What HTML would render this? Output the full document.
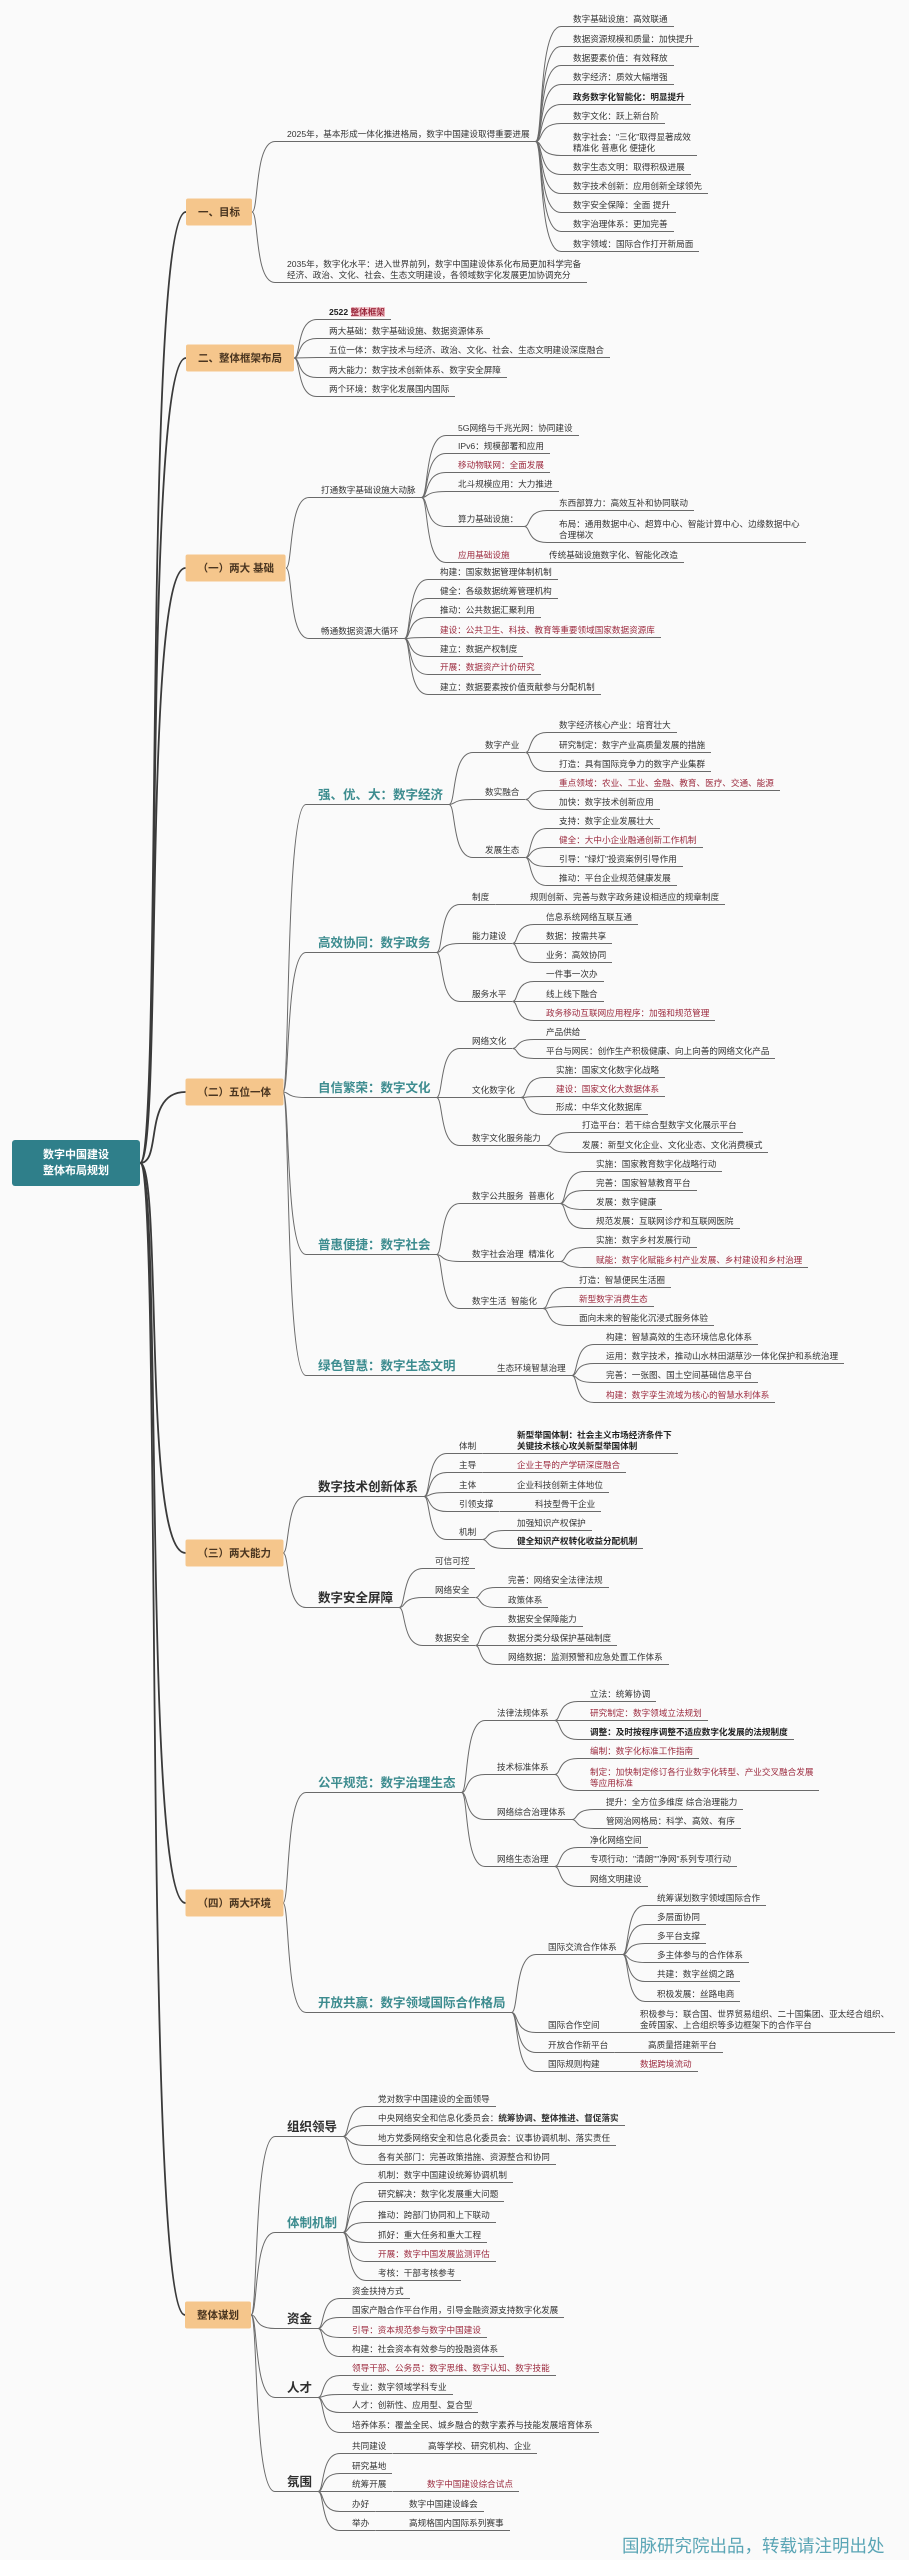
<!DOCTYPE html>
<html><head><meta charset="utf-8">
<style>
html,body{margin:0;padding:0;}
body{width:909px;height:2560px;position:relative;background:#fafafa;overflow:hidden;font-family:"Liberation Sans","Noto Sans CJK SC",sans-serif;color:#333;}
svg#L{position:absolute;left:0;top:0;width:909px;height:2560px;}
.n{position:absolute;transform:translate(-12px,-100%);padding:0 6px 1px 12px;border-bottom:1px solid #6a6a6a;white-space:nowrap;font-size:8.6px;line-height:11px;color:#333;}
.h{font-size:12.5px;line-height:16px;font-weight:bold;color:#3d8c8f;}
.k{font-size:12.5px;line-height:16px;font-weight:bold;color:#2e2e2e;}
.r{color:#9c2a3e;}
.d{color:#222;font-weight:bold;}
.b{position:absolute;transform:translate(-100%,-50%);background:#f5c68c;color:#4a3520;font-size:10.5px;font-weight:bold;padding:6px 12px;white-space:nowrap;border-radius:2px;}
#R{position:absolute;left:12px;top:1140px;width:128px;height:46px;background:#2f7f8a;color:#fff;font-size:11px;font-weight:bold;text-align:center;line-height:16px;padding-top:7px;box-sizing:border-box;border-radius:3px;}
.wm{position:absolute;left:622px;top:2533px;font-size:17.5px;color:#5aa5b5;white-space:nowrap;}
.hl{background:#f3c6cc;color:#9c2a3e;}
</style></head><body>
<svg id="L" xmlns="http://www.w3.org/2000/svg"></svg>
<div id="R">数字中国建设<br>整体布局规划</div>

<div class="b" id="g1" p="R" style="left:252px;top:212px">一、目标</div>
<div class="b" id="g2" p="R" style="left:294px;top:358px">二、整体框架布局</div>
<div class="b" id="g3" p="R" style="left:286px;top:568px">（一）两大 基础</div>
<div class="b" id="g4" p="R" style="left:283px;top:1092px">（二）五位一体</div>
<div class="b" id="g5" p="R" style="left:283px;top:1553px">（三）两大能力</div>
<div class="b" id="g6" p="R" style="left:283px;top:1903px">（四）两大环境</div>
<div class="b" id="g7" p="R" style="left:251px;top:2315px">整体谋划</div>

<!-- 目标 -->
<div class="n" id="a1" p="g1" style="left:287px;top:142px">2025年，基本形成一体化推进格局，数字中国建设取得重要进展</div>
<div class="n" p="a1" style="left:573px;top:27px">数字基础设施：高效联通</div>
<div class="n" p="a1" style="left:573px;top:47px">数据资源规模和质量：加快提升</div>
<div class="n" p="a1" style="left:573px;top:66px">数据要素价值：有效释放</div>
<div class="n" p="a1" style="left:573px;top:85px">数字经济：质效大幅增强</div>
<div class="n d" p="a1" style="left:573px;top:105px">政务数字化智能化：明显提升</div>
<div class="n" p="a1" style="left:573px;top:124px">数字文化：跃上新台阶</div>
<div class="n" p="a1" style="left:573px;top:156px">数字社会："三化"取得显著成效<br>精准化 普惠化 便捷化</div>
<div class="n" p="a1" style="left:573px;top:175px">数字生态文明：取得积极进展</div>
<div class="n" p="a1" style="left:573px;top:194px">数字技术创新：应用创新全球领先</div>
<div class="n" p="a1" style="left:573px;top:213px">数字安全保障：全面 提升</div>
<div class="n" p="a1" style="left:573px;top:232px">数字治理体系：更加完善</div>
<div class="n" p="a1" style="left:573px;top:252px">数字领域：国际合作打开新局面</div>
<div class="n" p="g1" style="left:287px;top:283px">2035年，数字化水平：进入世界前列，数字中国建设体系化布局更加科学完备<br>经济、政治、文化、社会、生态文明建设，各领域数字化发展更加协调充分</div>

<!-- 整体框架布局 -->
<div class="n d" p="g2" style="left:329px;top:320px">2522 <span class="hl">整体框架</span></div>
<div class="n" p="g2" style="left:329px;top:339px">两大基础：数字基础设施、数据资源体系</div>
<div class="n" p="g2" style="left:329px;top:358px">五位一体：数字技术与经济、政治、文化、社会、生态文明建设深度融合</div>
<div class="n" p="g2" style="left:329px;top:378px">两大能力：数字技术创新体系、数字安全屏障</div>
<div class="n" p="g2" style="left:329px;top:397px">两个环境：数字化发展国内国际</div>

<!-- 两大基础 -->
<div class="n" id="b1" p="g3" style="left:321px;top:498px">打通数字基础设施大动脉</div>
<div class="n" id="b2" p="g3" style="left:321px;top:639px">畅通数据资源大循环</div>
<div class="n" p="b1" style="left:458px;top:436px">5G网络与千兆光网：协同建设</div>
<div class="n" p="b1" style="left:458px;top:454px">IPv6：规模部署和应用</div>
<div class="n r" p="b1" style="left:458px;top:473px">移动物联网：全面发展</div>
<div class="n" p="b1" style="left:458px;top:492px">北斗规模应用：大力推进</div>
<div class="n" id="b1s" p="b1" style="left:458px;top:527px">算力基础设施：</div>
<div class="n r" id="b1y" p="b1" style="left:458px;top:563px">应用基础设施</div>
<div class="n" p="b1s" style="left:559px;top:511px">东西部算力：高效互补和协同联动</div>
<div class="n" p="b1s" style="left:559px;top:543px">布局：通用数据中心、超算中心、智能计算中心、边缘数据中心<br>合理梯次</div>
<div class="n" p="b1y" style="left:549px;top:563px">传统基础设施数字化、智能化改造</div>
<div class="n" p="b2" style="left:440px;top:580px">构建：国家数据管理体制机制</div>
<div class="n" p="b2" style="left:440px;top:599px">健全：各级数据统筹管理机构</div>
<div class="n" p="b2" style="left:440px;top:618px">推动：公共数据汇聚利用</div>
<div class="n r" p="b2" style="left:440px;top:638px">建设：公共卫生、科技、教育等重要领域国家数据资源库</div>
<div class="n" p="b2" style="left:440px;top:657px">建立：数据产权制度</div>
<div class="n" p="b2" style="left:440px;top:675px"><span class="r">开展：数据资产计价研究</span></div>
<div class="n" p="b2" style="left:440px;top:695px">建立：数据要素按价值贡献参与分配机制</div>

<!-- 五位一体 -->
<div class="n h" id="e1" p="g4" style="left:318px;top:805px">强、优、大：数字经济</div>
<div class="n h" id="e2" p="g4" style="left:318px;top:953px">高效协同：数字政务</div>
<div class="n h" id="e3" p="g4" style="left:318px;top:1098px">自信繁荣：数字文化</div>
<div class="n h" id="e4" p="g4" style="left:318px;top:1255px">普惠便捷：数字社会</div>
<div class="n h" id="e5" p="g4" style="left:318px;top:1376px">绿色智慧：数字生态文明</div>

<div class="n" id="e11" p="e1" style="left:485px;top:753px">数字产业</div>
<div class="n" id="e12" p="e1" style="left:485px;top:800px">数实融合</div>
<div class="n" id="e13" p="e1" style="left:485px;top:858px">发展生态</div>
<div class="n" p="e11" style="left:559px;top:733px">数字经济核心产业：培育壮大</div>
<div class="n" p="e11" style="left:559px;top:753px">研究制定：数字产业高质量发展的措施</div>
<div class="n" p="e11" style="left:559px;top:772px">打造：具有国际竞争力的数字产业集群</div>
<div class="n r" p="e12" style="left:559px;top:791px">重点领域：农业、工业、金融、教育、医疗、交通、能源</div>
<div class="n" p="e12" style="left:559px;top:810px">加快：数字技术创新应用</div>
<div class="n" p="e13" style="left:559px;top:829px">支持：数字企业发展壮大</div>
<div class="n r" p="e13" style="left:559px;top:848px">健全：大中小企业融通创新工作机制</div>
<div class="n" p="e13" style="left:559px;top:867px">引导："绿灯"投资案例引导作用</div>
<div class="n" p="e13" style="left:559px;top:886px">推动：平台企业规范健康发展</div>

<div class="n" id="e21" p="e2" style="left:472px;top:905px">制度</div>
<div class="n" id="e22" p="e2" style="left:472px;top:944px">能力建设</div>
<div class="n" id="e23" p="e2" style="left:472px;top:1002px">服务水平</div>
<div class="n" p="e21" style="left:530px;top:905px">规则创新、完善与数字政务建设相适应的规章制度</div>
<div class="n" p="e22" style="left:546px;top:925px">信息系统网络互联互通</div>
<div class="n" p="e22" style="left:546px;top:944px">数据：按需共享</div>
<div class="n" p="e22" style="left:546px;top:963px">业务：高效协同</div>
<div class="n" p="e23" style="left:546px;top:982px">一件事一次办</div>
<div class="n" p="e23" style="left:546px;top:1002px">线上线下融合</div>
<div class="n r" p="e23" style="left:546px;top:1021px">政务移动互联网应用程序：加强和规范管理</div>

<div class="n" id="e31" p="e3" style="left:472px;top:1049px">网络文化</div>
<div class="n" id="e32" p="e3" style="left:472px;top:1098px">文化数字化</div>
<div class="n" id="e33" p="e3" style="left:472px;top:1146px">数字文化服务能力</div>
<div class="n" p="e31" style="left:546px;top:1040px">产品供给</div>
<div class="n" p="e31" style="left:546px;top:1059px">平台与网民：创作生产积极健康、向上向善的网络文化产品</div>
<div class="n" p="e32" style="left:556px;top:1078px">实施：国家文化数字化战略</div>
<div class="n r" p="e32" style="left:556px;top:1097px">建设：国家文化大数据体系</div>
<div class="n" p="e32" style="left:556px;top:1115px">形成：中华文化数据库</div>
<div class="n" p="e33" style="left:582px;top:1133px">打造平台：若干综合型数字文化展示平台</div>
<div class="n" p="e33" style="left:582px;top:1153px">发展：新型文化企业、文化业态、文化消费模式</div>

<div class="n" id="e41" p="e4" style="left:472px;top:1204px">数字公共服务&nbsp; 普惠化</div>
<div class="n" id="e42" p="e4" style="left:472px;top:1262px">数字社会治理&nbsp; 精准化</div>
<div class="n" id="e43" p="e4" style="left:472px;top:1309px">数字生活&nbsp; 智能化</div>
<div class="n" p="e41" style="left:596px;top:1172px">实施：国家教育数字化战略行动</div>
<div class="n" p="e41" style="left:596px;top:1191px">完善：国家智慧教育平台</div>
<div class="n" p="e41" style="left:596px;top:1210px">发展：数字健康</div>
<div class="n" p="e41" style="left:596px;top:1229px">规范发展：互联网诊疗和互联网医院</div>
<div class="n" p="e42" style="left:596px;top:1248px">实施：数字乡村发展行动</div>
<div class="n r" p="e42" style="left:596px;top:1268px">赋能：数字化赋能乡村产业发展、乡村建设和乡村治理</div>
<div class="n" p="e43" style="left:579px;top:1288px">打造：智慧便民生活圈</div>
<div class="n r" p="e43" style="left:579px;top:1307px">新型数字消费生态</div>
<div class="n" p="e43" style="left:579px;top:1326px">面向未来的智能化沉浸式服务体验</div>

<div class="n" id="e51" p="e5" style="left:497px;top:1376px">生态环境智慧治理</div>
<div class="n" p="e51" style="left:606px;top:1345px">构建：智慧高效的生态环境信息化体系</div>
<div class="n" p="e51" style="left:606px;top:1364px">运用：数字技术，推动山水林田湖草沙一体化保护和系统治理</div>
<div class="n" p="e51" style="left:606px;top:1383px">完善：一张图、国土空间基础信息平台</div>
<div class="n r" p="e51" style="left:606px;top:1403px">构建：数字孪生流域为核心的智慧水利体系</div>

<!-- 两大能力 -->
<div class="n k" id="f1" p="g5" style="left:318px;top:1497px">数字技术创新体系</div>
<div class="n k" id="f2" p="g5" style="left:318px;top:1608px">数字安全屏障</div>
<div class="n" id="f11" p="f1" style="left:459px;top:1454px">体制</div>
<div class="n" id="f12" p="f1" style="left:459px;top:1473px">主导</div>
<div class="n" id="f13" p="f1" style="left:459px;top:1493px">主体</div>
<div class="n" id="f14" p="f1" style="left:459px;top:1512px">引领支撑</div>
<div class="n" id="f15" p="f1" style="left:459px;top:1540px">机制</div>
<div class="n d" p="f11" style="left:517px;top:1454px">新型举国体制：社会主义市场经济条件下<br>关键技术核心攻关新型举国体制</div>
<div class="n r" p="f12" style="left:517px;top:1473px">企业主导的产学研深度融合</div>
<div class="n" p="f13" style="left:517px;top:1493px">企业科技创新主体地位</div>
<div class="n" p="f14" style="left:535px;top:1512px">科技型骨干企业</div>
<div class="n" p="f15" style="left:517px;top:1531px">加强知识产权保护</div>
<div class="n d" p="f15" style="left:517px;top:1549px">健全知识产权转化收益分配机制</div>

<div class="n" p="f2" style="left:435px;top:1569px">可信可控</div>
<div class="n" id="f22" p="f2" style="left:435px;top:1598px">网络安全</div>
<div class="n" id="f23" p="f2" style="left:435px;top:1646px">数据安全</div>
<div class="n" p="f22" style="left:508px;top:1588px">完善：网络安全法律法规</div>
<div class="n" p="f22" style="left:508px;top:1608px">政策体系</div>
<div class="n" p="f23" style="left:508px;top:1627px">数据安全保障能力</div>
<div class="n" p="f23" style="left:508px;top:1646px">数据分类分级保护基础制度</div>
<div class="n" p="f23" style="left:508px;top:1665px">网络数据：监测预警和应急处置工作体系</div>

<!-- 两大环境 -->
<div class="n h" id="k1" p="g6" style="left:318px;top:1793px">公平规范：数字治理生态</div>
<div class="n h" id="k2" p="g6" style="left:318px;top:2013px">开放共赢：数字领域国际合作格局</div>
<div class="n" id="k11" p="k1" style="left:497px;top:1721px">法律法规体系</div>
<div class="n" id="k12" p="k1" style="left:497px;top:1775px">技术标准体系</div>
<div class="n" id="k13" p="k1" style="left:497px;top:1820px">网络综合治理体系</div>
<div class="n" id="k14" p="k1" style="left:497px;top:1867px">网络生态治理</div>
<div class="n" p="k11" style="left:590px;top:1702px">立法：统筹协调</div>
<div class="n r" p="k11" style="left:590px;top:1721px">研究制定：数字领域立法规划</div>
<div class="n d" p="k11" style="left:590px;top:1740px">调整：及时按程序调整不适应数字化发展的法规制度</div>
<div class="n r" p="k12" style="left:590px;top:1759px">编制：数字化标准工作指南</div>
<div class="n r" p="k12" style="left:590px;top:1791px">制定：加快制定修订各行业数字化转型、产业交叉融合发展<br>等应用标准</div>
<div class="n" p="k13" style="left:606px;top:1810px">提升：全方位多维度 综合治理能力</div>
<div class="n" p="k13" style="left:606px;top:1829px">管网治网格局：科学、高效、有序</div>
<div class="n" p="k14" style="left:590px;top:1848px">净化网络空间</div>
<div class="n" p="k14" style="left:590px;top:1867px">专项行动："清朗""净网"系列专项行动</div>
<div class="n" p="k14" style="left:590px;top:1887px">网络文明建设</div>

<div class="n" id="k21" p="k2" style="left:548px;top:1955px">国际交流合作体系</div>
<div class="n" id="k22" p="k2" style="left:548px;top:2033px">国际合作空间</div>
<div class="n" id="k23" p="k2" style="left:548px;top:2053px">开放合作新平台</div>
<div class="n" id="k24" p="k2" style="left:548px;top:2072px">国际规则构建</div>
<div class="n" p="k21" style="left:657px;top:1906px">统筹谋划数字领域国际合作</div>
<div class="n" p="k21" style="left:657px;top:1925px">多层面协同</div>
<div class="n" p="k21" style="left:657px;top:1944px">多平台支撑</div>
<div class="n" p="k21" style="left:657px;top:1963px">多主体参与的合作体系</div>
<div class="n" p="k21" style="left:657px;top:1982px">共建：数字丝绸之路</div>
<div class="n" p="k21" style="left:657px;top:2002px">积极发展：丝路电商</div>
<div class="n" p="k22" style="left:640px;top:2033px">积极参与：联合国、世界贸易组织、二十国集团、亚太经合组织、<br>金砖国家、上合组织等多边框架下的合作平台</div>
<div class="n" p="k23" style="left:648px;top:2053px">高质量搭建新平台</div>
<div class="n r" p="k24" style="left:640px;top:2072px">数据跨境流动</div>

<!-- 整体谋划 -->
<div class="n k" id="m1" p="g7" style="left:287px;top:2137px">组织领导</div>
<div class="n h" id="m2" p="g7" style="left:287px;top:2233px">体制机制</div>
<div class="n k" id="m3" p="g7" style="left:287px;top:2329px">资金</div>
<div class="n k" id="m4" p="g7" style="left:287px;top:2398px">人才</div>
<div class="n k" id="m5" p="g7" style="left:287px;top:2492px">氛围</div>
<div class="n" p="m1" style="left:378px;top:2107px">党对数字中国建设的全面领导</div>
<div class="n" p="m1" style="left:378px;top:2126px">中央网络安全和信息化委员会：<b>统筹协调、整体推进、督促落实</b></div>
<div class="n" p="m1" style="left:378px;top:2146px">地方党委网络安全和信息化委员会：议事协调机制、落实责任</div>
<div class="n" p="m1" style="left:378px;top:2165px">各有关部门：完善政策措施、资源整合和协同</div>
<div class="n" p="m2" style="left:378px;top:2183px">机制：数字中国建设统筹协调机制</div>
<div class="n" p="m2" style="left:378px;top:2202px">研究解决：数字化发展重大问题</div>
<div class="n" p="m2" style="left:378px;top:2223px">推动：跨部门协同和上下联动</div>
<div class="n" p="m2" style="left:378px;top:2243px">抓好：重大任务和重大工程</div>
<div class="n r" p="m2" style="left:378px;top:2262px">开展：数字中国发展监测评估</div>
<div class="n" p="m2" style="left:378px;top:2281px">考核：干部考核参考</div>
<div class="n" p="m3" style="left:352px;top:2299px">资金扶持方式</div>
<div class="n" p="m3" style="left:352px;top:2318px">国家产融合作平台作用，引导金融资源支持数字化发展</div>
<div class="n r" p="m3" style="left:352px;top:2338px">引导：资本规范参与数字中国建设</div>
<div class="n" p="m3" style="left:352px;top:2357px">构建：社会资本有效参与的投融资体系</div>
<div class="n r" p="m4" style="left:352px;top:2376px">领导干部、公务员：数字思维、数字认知、数字技能</div>
<div class="n" p="m4" style="left:352px;top:2395px">专业：数字领域学科专业</div>
<div class="n" p="m4" style="left:352px;top:2413px">人才：创新性、应用型、复合型</div>
<div class="n" p="m4" style="left:352px;top:2433px">培养体系：覆盖全民、城乡融合的数字素养与技能发展培育体系</div>
<div class="n" id="m51" p="m5" style="left:352px;top:2454px">共同建设</div>
<div class="n" p="m5" style="left:352px;top:2474px">研究基地</div>
<div class="n" id="m53" p="m5" style="left:352px;top:2492px">统筹开展</div>
<div class="n" id="m54" p="m5" style="left:352px;top:2512px">办好</div>
<div class="n" id="m55" p="m5" style="left:352px;top:2531px">举办</div>
<div class="n" p="m51" style="left:428px;top:2454px">高等学校、研究机构、企业</div>
<div class="n r" p="m53" style="left:427px;top:2492px">数字中国建设综合试点</div>
<div class="n" p="m54" style="left:409px;top:2512px">数字中国建设峰会</div>
<div class="n" p="m55" style="left:409px;top:2531px">高规格国内国际系列赛事</div>

<div class="wm">国脉研究院出品，转载请注明出处</div>

<script>
(function(){
var svg=document.getElementById('L');var ns='http://www.w3.org/2000/svg';var out='';
var els=document.querySelectorAll('[p]');
for(var i=0;i<els.length;i++){
 var el=els[i];var par=document.getElementById(el.getAttribute('p'));if(!par)continue;
 var a=par.getBoundingClientRect(),b=el.getBoundingClientRect();
 var isBox=function(e){return e.id==='R'||e.classList.contains('b');};
 var px=a.right,py=isBox(par)?a.top+a.height/2:a.bottom-0.5;
 var cx=b.left,cy=isBox(el)?b.top+b.height/2:b.bottom-0.5;
 var dx=cx-px;var w=par.id==='R'?1.8:1;var col=par.id==='R'?'#3a3a3a':'#6a6a6a';
 var d;
 if(Math.abs(cy-py)<1){d='M'+px+' '+py+' L'+cx+' '+cy;}
 else if(par.id==='R'){d='M'+px+' '+py+' C'+(px+dx*0.5)+' '+py+' '+(px+dx*0.05)+' '+cy+' '+cx+' '+cy;}
 else{d='M'+px+' '+py+' C'+(px+dx*0.3)+' '+py+' '+(px+dx*0.1)+' '+cy+' '+cx+' '+cy;}
 out+='<path d="'+d+'" fill="none" stroke="'+col+'" stroke-width="'+w+'"/>';
}
svg.innerHTML=out;
})();
</script>
</body></html>
